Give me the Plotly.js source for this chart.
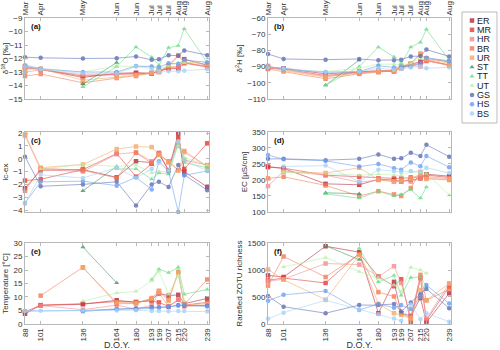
<!DOCTYPE html>
<html>
<head>
<meta charset="utf-8">
<script src="https://cdn.plot.ly/plotly-3.0.1.min.js"></script>
<style>
  body { margin: 0; padding: 0; background: #fff; }
  #chart { width: 500px; height: 350px; }
</style>
</head>
<body>
<div id="chart"></div>
<script>
// sampling days (day of year) and the month shown on the top axis
let doy = [88, 101, 136, 164, 180, 193, 199, 207, 215, 220, 239];
let months = ['Mar', 'Apr', 'May', 'Jun', 'Jun', 'Jul', 'Jul', 'Jul', 'Aug', 'Aug', 'Aug'];

let sites = ['ER', 'MR', 'HR', 'BR', 'UR', 'ST', 'TT', 'UT', 'GS', 'HS', 'BS'];
let siteColors = ['#b3263a', '#e53935', '#f28b8b', '#f27a52', '#f5a866',
                  '#3f9460', '#62dc84', '#b4f0a4', '#5b6bb3', '#6b9cf0', '#a3d2f7'];
let siteSymbols = ['square', 'square', 'square', 'square', 'square',
                   'triangle-up', 'triangle-up', 'triangle-up', 'circle', 'circle', 'circle'];

// one row per site, same order as sites
let d18O = [
    [-12.6, -12.8, -13.4, -13.1, -13.05, -13.1, -12.9, -12.7, -12.7, -12.05, -12.5],
    [-12.7, -12.8, -13.3, -13.15, -13.1, -13.1, -12.95, -12.75, -12.75, -12.35, -12.6],
    [-13.0, -12.85, -13.2, -13.2, -13.2, -13.05, -13.0, -12.6, -12.6, -12.3, -12.55],
    [-13.3, -13.15, -13.8, -13.45, -13.3, -13.1, -13.0, -12.6, -11.8, -12.3, -12.65],
    [-12.8, -12.75, -13.6, -13.4, -13.25, -13.05, -12.95, -12.5, -11.75, -12.25, -12.4],
    [null, null, -13.9, -12.3, null, null, null, null, null, null, null],
    [null, null, -14.1, -12.6, -11.15, -11.9, -12.5, -11.2, -11.05, -9.8, -12.3],
    [null, -12.8, -13.0, -12.55, -12.6, -12.55, -12.8, -12.55, -12.3, -12.3, -12.2],
    [-11.9, -11.95, -12.0, -11.98, -11.85, -12.1, -12.05, -11.75, -11.8, -11.4, -11.75],
    [-12.5, -12.75, -13.0, -13.0, -12.55, -12.6, -12.65, -12.35, -12.4, -12.1, -12.3],
    [-12.6, -12.8, -13.1, -13.1, -12.6, -12.75, -13.0, -12.95, -12.95, -12.9, -12.8]
];

let d2H = [
    [-90.5, -91, -94.5, -93, -92.5, -92.5, -90, -88.5, -87, -85, -87],
    [-91, -91.5, -95.5, -93.5, -93, -93, -91, -89, -88, -86.5, -89],
    [-89.5, -92, -96, -94, -93, -92, -91, -89, -90, -86, -89.5],
    [-91.5, -93, -97.5, -94.5, -93.5, -92.5, -90.5, -88, -82, -86, -89],
    [-90, -92.5, -96.5, -93.5, -93, -92.5, -90, -88, -82.5, -85.5, -88],
    [null, null, -101.5, -86, null, null, null, null, null, null, null],
    [null, null, -101.5, -90, -78, -84, -88, -78, -75, -67, -86],
    [null, -92, -93, -91, -88.5, -88.5, -89, -88, -84.5, -85, -86.5],
    [-82.2, -85.3, -85.7, -85.3, -86.1, -86.1, -85.7, -83.7, -83.5, -79.5, -83.7],
    [-90, -91.5, -93.5, -93, -89.5, -90.5, -90, -90, -88, -84.5, -86.5],
    [-90.5, -91, -93.5, -93, -91, -92, -91.5, -90.5, -90, -91, -90.5]
];

let lcex = [
    [-2.3, -0.9, -0.85, -1.45, -0.2, -0.3, 0.35, -0.9, 1.95, -1.0, -2.2],
    [-1.7, -1.6, -0.85, 0.4, -1.4, -0.4, 0.45, -0.9, 1.6, -0.8, 1.2],
    [1.8, -0.85, -1.0, 0.35, 0.5, -0.2, 0.4, -0.3, 1.0, 0.6, -0.6],
    [-2.5, -0.75, -0.9, -1.5, 0.45, -0.35, 0.3, -0.2, -0.9, -0.1, -0.5],
    [1.9, -0.7, -0.45, 0.75, 0.95, 0.9, 0.3, -0.25, -0.9, 0.5, -0.6],
    [null, null, -2.5, -0.6, null, null, null, null, null, null, null],
    [null, null, null, -0.8, -0.8, -1.6, -1.1, -1.2, 1.2, -0.3, -0.7],
    [null, -0.8, -0.45, -0.6, -0.5, -1.1, -1.0, -1.0, 1.0, 0.1, -0.5],
    [0.15, -2.15, -2.0, -1.8, -3.65, -2.0, -1.8, -2.2, -0.5, -1.25, -2.45],
    [-3.45, -1.8, -1.75, -2.1, -1.45, -2.4, -0.2, -1.0, -4.15, -1.3, -0.95],
    [-3.5, -1.25, -1.5, -0.7, -1.5, -0.8, -0.3, -0.9, 1.35, -0.1, -0.95]
];

let ec = [
    [242, 236, 188, 185, 202, 200, 195, 200, 205, 218, 212],
    [240, 237, 215, 210, 205, 205, 205, 208, 210, 215, 208],
    [181, 228, 215, 193, 200, 195, 200, 195, 205, 210, 205],
    [205, 210, 183, 150, 165, 155, 150, 175, 225, 205, 200],
    [null, 225, 222, 238, 202, 195, 195, 205, 218, 203, 203],
    [null, null, 160, 157, null, null, null, null, null, null, null],
    [null, null, 157, 143, 165, 150, 155, 170, 143, 178, null],
    [null, 225, null, 215, 218, 215, 214, 225, 225, 220, 153],
    [266, 266, 262, 266, 280, 266, 268, 285, 275, 310, 273],
    [278, 265, 260, 242, 250, 237, 232, 255, 243, 275, 240],
    [null, 242, 245, 195, 232, 228, 225, 228, 225, 238, 222]
];

let temperature = [
    [3.8, 6.9, 7.3, 8.8, 8.0, 9.0, 11.3, 10.5, 10.8, 7.5, 9.5],
    [4.5, 7.0, 7.5, 8.3, 8.2, 8.5, 8.0, 6.5, 9.0, 7.0, 8.0],
    [null, 6.8, 5.3, 7.0, 5.5, 7.0, 11.5, 6.5, 9.0, 6.5, 7.0],
    [null, 10.5, 21.0, 7.5, 7.6, 9.6, 12.3, 9.0, 19.3, 7.2, 16.5],
    [null, null, 20.8, 8.0, 7.8, 9.2, 12.0, 8.5, 19.0, 7.0, 7.5],
    [null, null, 28.5, 15.2, null, null, null, null, null, null, null],
    [null, null, null, null, null, 16.5, 20.3, 19.0, 21.0, 11.0, 12.8],
    [null, null, 8.5, 11.5, 12.1, 16.0, 19.5, 11.0, 18.0, 8.5, null],
    [null, null, 4.7, 5.5, 5.8, 6.2, 6.2, 6.3, 7.0, 6.8, 6.8],
    [4.8, null, 5.0, 5.6, 5.5, 5.8, 6.0, 6.5, 6.8, 7.0, 6.5],
    [4.8, 4.9, 5.0, 5.0, 5.1, 4.8, 4.8, 4.7, 4.8, 4.8, 4.6]
];

let zotu = [
    [900, 870, 1440, 1330, 200, 780, 200, 150, 480, 30, 570],
    [810, 850, 760, 1310, 880, 700, 830, 40, 850, 70, 690],
    [790, 830, 1120, 1100, 880, 1070, 760, 130, 850, 100, 750],
    [710, 1250, 870, 1290, 590, 510, 200, 100, 910, 440, 640],
    [1010, 820, 450, 1280, 370, 200, 170, 100, 630, 440, 750],
    [null, null, 1450, 1190, null, null, null, null, null, null, null],
    [null, null, null, 1400, 780, 900, 530, 860, 870, 700, null],
    [null, 1060, 1230, 970, 850, 720, 600, 1050, 1000, 940, null],
    [520, 320, 200, 350, 350, 370, 230, 400, 550, 650, 290],
    [430, 540, 610, 260, 370, 300, 350, 280, 500, 720, 380],
    [95, 210, 440, 270, 180, 100, 60, 360, 90, 200, 43]
];

let frameColor = '#b8b8b8';
let textColor = '#333';

function xAxisFor(row, domain) {
    let ax = {
        domain: domain,
        range: [88, 240.5],
        tickmode: 'array',
        tickvals: doy,
        ticks: 'inside',
        ticklen: 3,
        tickcolor: frameColor,
        showline: true,
        linecolor: frameColor,
        linewidth: 1,
        mirror: 'ticks',
        showgrid: false,
        zeroline: false,
        tickfont: {size: 8, color: textColor},
        tickangle: -90
    };
    if (row === 0) {
        ax.side = 'top';
        ax.ticktext = months;
    } else if (row === 1) {
        ax.showticklabels = false;
    } else {
        ax.ticktext = doy.map(d => String(d));
        ax.title = {text: 'D.O.Y.', font: {size: 9, color: textColor}, standoff: 1};
    }
    return ax;
}

function yAxisFor(domain, range, dtick, title) {
    return {
        domain: domain,
        range: range,
        dtick: dtick,
        ticks: 'inside',
        ticklen: 3,
        tickcolor: frameColor,
        showline: true,
        linecolor: frameColor,
        linewidth: 1,
        mirror: 'ticks',
        showgrid: false,
        zeroline: false,
        tickfont: {size: 8, color: textColor},
        title: {text: title, font: {size: 8, color: textColor}, standoff: 3}
    };
}

function drawChart() {
    let colX = [[0.05, 0.418], [0.536, 0.902]];
    let rowY = [[0.7171, 0.9486], [0.3943, 0.6229], [0.0743, 0.3057]];

    let panels = [
        {values: d18O, row: 0, col: 0, range: [-15, -9], dtick: 1, title: 'δ<sup>18</sup>O [‰]', tag: '(a)'},
        {values: d2H, row: 0, col: 1, range: [-110, -60], dtick: 10, title: 'δ<sup>2</sup>H [‰]', tag: '(b)'},
        {values: lcex, row: 1, col: 0, range: [-4.15, 2.08], dtick: 1, title: 'lc-ex', tag: '(c)'},
        {values: ec, row: 1, col: 1, range: [100, 350], dtick: 50, title: 'EC [µS/cm]', tag: '(d)'},
        {values: temperature, row: 2, col: 0, range: [0, 30], dtick: 5, title: 'Temperature [°C]', tag: '(e)'},
        {values: zotu, row: 2, col: 1, range: [0, 1500], dtick: 500, title: 'Rarefied ZOTU richness', tag: '(f)'}
    ];

    let traces = [];
    let layout = {
        width: 500,
        height: 350,
        margin: {l: 0, r: 0, t: 0, b: 0},
        paper_bgcolor: '#fff',
        plot_bgcolor: '#fff',
        font: {family: 'Liberation Sans, Arial, sans-serif', size: 8, color: textColor},
        showlegend: false,
        annotations: [],
        shapes: []
    };

    panels.forEach((p, i) => {
        let n = i + 1;
        let suffix = n === 1 ? '' : String(n);
        layout['xaxis' + suffix] = xAxisFor(p.row, colX[p.col]);
        layout['yaxis' + suffix] = yAxisFor(rowY[p.row], p.range, p.dtick, p.title);
        layout['xaxis' + suffix].anchor = 'y' + suffix;
        layout['yaxis' + suffix].anchor = 'x' + suffix;

        sites.forEach((site, s) => {
            traces.push({
                x: doy,
                y: p.values[s],
                xaxis: 'x' + suffix,
                yaxis: 'y' + suffix,
                name: site,
                mode: 'lines+markers',
                connectgaps: true,
                cliponaxis: false,
                opacity: 0.8,
                line: {color: siteColors[s], width: 0.7},
                marker: {color: siteColors[s], symbol: siteSymbols[s], size: 4.5}
            });
        });

        layout.annotations.push({
            xref: 'x' + suffix + ' domain',
            yref: 'y' + suffix + ' domain',
            x: 0.02, y: 0.97,
            xanchor: 'left', yanchor: 'top',
            showarrow: false,
            text: '<b>' + p.tag + '</b>',
            font: {size: 8, color: '#111'}
        });
    });

    // legend drawn as a small category axis so the spacing matches the figure
    layout.xaxis7 = {
        domain: [0.936, 0.952], range: [-1, 1], anchor: 'y7',
        showgrid: false, zeroline: false, showticklabels: false, showline: false, ticks: ''
    };
    layout.yaxis7 = {
        domain: [0.6514, 0.9657], anchor: 'x7', side: 'right',
        type: 'category', categoryarray: sites, autorange: 'reversed',
        tickmode: 'array', tickvals: sites, ticktext: sites,
        showgrid: false, zeroline: false, showline: false, ticks: '',
        tickfont: {size: 9, color: '#222'}
    };
    sites.forEach((site, s) => {
        traces.push({
            x: [0],
            y: [site],
            xaxis: 'x7',
            yaxis: 'y7',
            mode: 'markers',
            cliponaxis: false,
            opacity: 0.8,
            marker: {color: siteColors[s], symbol: siteSymbols[s], size: 4.5}
        });
    });
    layout.shapes.push({
        type: 'rect', xref: 'paper', yref: 'paper',
        x0: 0.924, x1: 0.994, y0: 0.6486, y1: 0.9657,
        line: {color: '#aaa', width: 0.8}, fillcolor: 'rgba(0,0,0,0)'
    });

    Plotly.newPlot('chart', traces, layout, {displayModeBar: false, staticPlot: true});
}

drawChart();
</script>
</body>
</html>
